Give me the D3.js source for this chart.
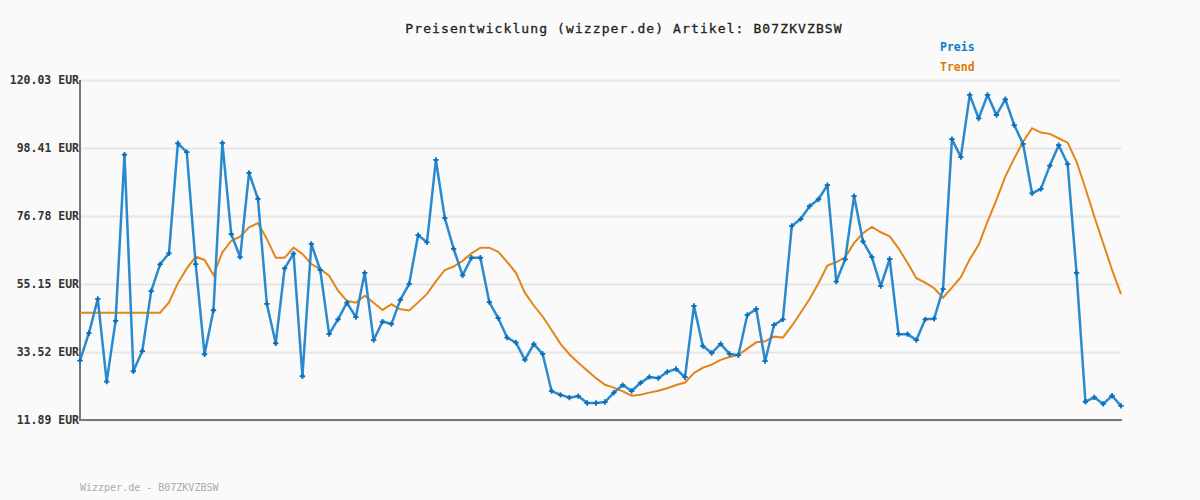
<!DOCTYPE html>
<html>
<head>
<meta charset="utf-8">
<script src="https://cdn.jsdelivr.net/npm/d3@7"></script>
<style>
    body { margin: 0; background: #fafafa; }
    svg { display: block; font-family: "DejaVu Sans Mono", "Liberation Mono", monospace; }
</style>
</head>
<body>
<div id="chart"></div>
<script>
// values
const chartTitle = "Preisentwicklung (wizzper.de) Artikel: B07ZKVZBSW";
const footerText = "Wizzper.de - B07ZKVZBSW";
const yTicks = [11.89, 33.52, 55.15, 76.78, 98.41, 120.03];
const seriesNames = ["Preis", "Trend"];

const prices = [30.8, 39.5, 50.4, 24.1, 43.4, 96.3, 27.4, 33.8, 52.9, 61.4,
    64.9, 99.9, 97.1, 61.5, 32.8, 46.8, 100.0, 71.0, 63.7, 90.5,
    82.2, 48.8, 36.3, 60.1, 64.8, 25.8, 67.9, 59.6, 39.2, 43.9,
    49.2, 44.6, 58.7, 37.3, 43.2, 42.4, 50.1, 55.2, 70.7, 68.4,
    94.6, 76.1, 66.3, 57.9, 63.5, 63.5, 49.4, 44.3, 38.1, 36.5,
    31.0, 36.0, 32.9, 21.1, 19.9, 19.0, 19.5, 17.3, 17.3, 17.6,
    20.6, 23.0, 21.1, 23.7, 25.6, 25.2, 27.2, 28.1, 25.5, 48.2,
    35.4, 33.2, 36.1, 32.9, 32.5, 45.3, 47.2, 30.6, 42.1, 43.9,
    73.6, 75.8, 79.9, 82.1, 86.6, 55.9, 63.0, 83.1, 68.7, 63.7,
    54.5, 63.1, 39.2, 39.2, 37.3, 43.9, 44.1, 53.5, 101.2, 95.5,
    115.3, 107.8, 115.3, 108.9, 113.9, 105.7, 99.7, 84.0, 85.4, 92.8,
    99.3, 93.3, 58.7, 17.7, 19.1, 17.0, 19.6, 16.4];

const trend = [46.0, 46.0, 46.0, 46.0, 46.0, 46.0, 46.0, 46.0, 46.0, 46.0,
    49.3, 55.4, 60.1, 63.8, 62.8, 58.0, 65.2, 68.9, 70.2, 73.2,
    74.5, 69.5, 63.5, 63.5, 66.7, 64.7, 61.5, 59.9, 57.8, 53.0,
    49.8, 49.2, 51.4, 49.2, 46.9, 48.7, 47.1, 46.7, 49.3, 52.0,
    56.0, 59.6, 60.7, 62.5, 64.9, 66.7, 66.7, 65.4, 62.2, 58.7,
    52.4, 48.3, 44.8, 40.5, 36.1, 32.8, 30.1, 27.6, 25.2, 23.1,
    22.2, 21.0, 19.6, 19.9, 20.6, 21.2, 22.0, 23.0, 23.8, 26.8,
    28.5, 29.5, 31.0, 31.9, 32.6, 34.6, 36.6, 36.9, 38.4, 38.1,
    41.8, 46.0, 50.4, 55.4, 61.0, 62.1, 63.6, 68.2, 71.3, 73.3,
    71.6, 70.3, 66.5, 61.9, 57.0, 55.6, 53.8, 50.8, 54.0, 57.3,
    63.0, 67.6, 75.0, 81.9, 89.3, 95.1, 100.4, 104.7, 103.3, 102.9,
    101.5, 100.1, 94.1, 85.6, 76.6, 68.1, 59.6, 51.9];

class PriceChart {

    constructor(parentElement, dimCanvas) {
        this.parentElement = parentElement;
        this.dimCanvas = dimCanvas;

        this.initVis();
    }

    initVis() {
        let vis = this;

        vis.canvas = vis.dimCanvas;
        vis.margin = {top: 80, right: 79, bottom: 80, left: 80};
        vis.width = vis.canvas.width - vis.margin.left - vis.margin.right;
        vis.height = vis.canvas.height - vis.margin.top - vis.margin.bottom;

        vis.svg = d3.select(vis.parentElement)
            .append("svg")
            .attr("width", vis.canvas.width)
            .attr("height", vis.canvas.height);

        vis.svg.append("rect")
            .attr("width", vis.canvas.width)
            .attr("height", vis.canvas.height)
            .attr("fill", "#fafafa");

        vis.chart = vis.svg.append("g")
            .attr("transform", "translate(" + vis.margin.left + "," + vis.margin.top + ")");

        // scales
        vis.xScale = d3.scaleLinear()
            .domain([0, prices.length - 1])
            .range([0, vis.width]);
        vis.yScale = d3.scaleLinear()
            .domain([yTicks[0], yTicks[yTicks.length - 1]])
            .range([vis.height, 0]);

        // horizontal grid lines
        vis.chart.append("g")
            .attr("class", "grid")
            .call(d3.axisLeft(vis.yScale).tickValues(yTicks).tickSize(-vis.width).tickFormat(""))
            .call(g => g.select(".domain").remove())
            .call(g => g.selectAll("line").attr("stroke", "#e6e6e6").attr("stroke-width", 2));

        // y tick labels
        vis.chart.append("g")
            .attr("class", "y-axis")
            .call(d3.axisLeft(vis.yScale).tickValues(yTicks).tickSize(0).tickPadding(1)
                .tickFormat(d => d.toFixed(2) + " EUR"))
            .call(g => g.select(".domain").remove())
            .call(g => g.selectAll("text")
                .attr("fill", "#333")
                .attr("font-size", "11.5px")
                .attr("font-weight", "bold")
                .attr("font-family", "'DejaVu Sans Mono', monospace"));

        // axis lines
        vis.chart.append("line")
            .attr("x1", 0).attr("x2", 0)
            .attr("y1", 0).attr("y2", vis.height)
            .attr("stroke", "#777").attr("stroke-width", 2);
        vis.chart.append("line")
            .attr("x1", -1).attr("x2", vis.width + 1)
            .attr("y1", vis.height).attr("y2", vis.height)
            .attr("stroke", "#777").attr("stroke-width", 2);

        // title
        vis.svg.append("text")
            .attr("x", 624)
            .attr("y", 33)
            .attr("text-anchor", "middle")
            .attr("font-size", "13px")
            .attr("letter-spacing", "1.1px")
            .attr("fill", "#222")
            .attr("stroke", "#222")
            .attr("stroke-width", 0.3)
            .text(chartTitle);

        // legend
        vis.svg.selectAll("text.legend")
            .data(seriesNames)
            .enter()
            .append("text")
            .attr("class", "legend")
            .attr("x", 940)
            .attr("y", (d, i) => 51 + i * 20)
            .attr("font-size", "11.5px")
            .attr("font-weight", "bold")
            .attr("fill", (d, i) => i === 0 ? "#0a7bc8" : "#e07a00")
            .text(d => d);

        // footer
        vis.svg.append("text")
            .attr("x", 80)
            .attr("y", 491)
            .attr("font-size", "10px")
            .attr("fill", "#aaa")
            .text(footerText);

        vis.updateVis();
    }

    updateVis() {
        let vis = this;

        let line = d3.line()
            .x((d, i) => vis.xScale(i))
            .y(d => vis.yScale(d));

        // trend line
        vis.chart.append("path")
            .datum(trend)
            .attr("fill", "none")
            .attr("stroke", "#e5841a")
            .attr("stroke-width", 2)
            .attr("d", line);

        // price line
        vis.chart.append("path")
            .datum(prices)
            .attr("fill", "none")
            .attr("stroke", "#2a8ad0")
            .attr("stroke-width", 2.5)
            .attr("stroke-linejoin", "round")
            .attr("d", line);

        // price markers
        vis.chart.selectAll("path.marker")
            .data(prices)
            .enter()
            .append("path")
            .attr("class", "marker")
            .attr("d", d3.symbol().type(d3.symbolCross).size(16))
            .attr("transform", (d, i) => "translate(" + vis.xScale(i) + "," + vis.yScale(d) + ")")
            .attr("fill", "#0a6fb8");
    }
}

new PriceChart("#chart", {width: 1200, height: 500});
</script>
</body>
</html>
